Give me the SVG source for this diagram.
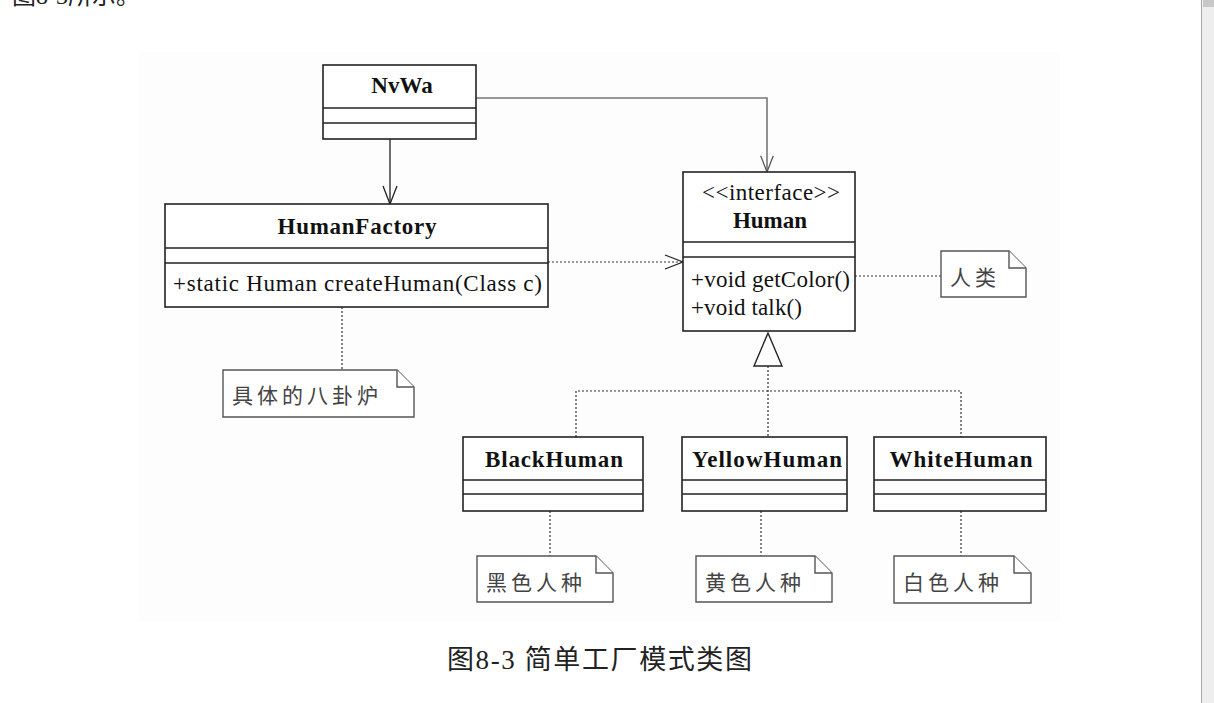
<svg xmlns="http://www.w3.org/2000/svg" width="1214" height="703" viewBox="0 0 1214 703">
<style>
.box{fill:#fff;stroke:#222;stroke-width:1.6}
.sep{stroke:#222;stroke-width:1.5}
.dot{fill:none;stroke:#333;stroke-width:1.2;stroke-dasharray:2 2}
.solid{fill:none;stroke:#222;stroke-width:1.3}
.gray{fill:none;stroke:#777;stroke-width:1.6}
.note{fill:#fff;stroke:#555;stroke-width:1.4}
.b{font-family:"Liberation Serif","Noto Sans CJK SC",serif;font-weight:bold;font-size:23px;fill:#111;text-anchor:middle}
.r{font-family:"Liberation Serif","Noto Sans CJK SC",serif;font-size:23px;fill:#111}
.cjk{font-family:"Noto Sans CJK SC",sans-serif;font-size:21px;fill:#444;letter-spacing:4px}
.cap{font-family:"Liberation Serif","Noto Sans CJK SC",serif;font-size:27px;fill:#222;letter-spacing:1.6px}
</style>
<defs>
<marker id="open" viewBox="0 0 20 16" refX="19" refY="8" markerWidth="20" markerHeight="16" markerUnits="userSpaceOnUse" orient="auto">
<path d="M1,1 L19,8 L1,15" fill="none" stroke="#222" stroke-width="1.3"/>
</marker>
<marker id="openGray" viewBox="0 0 20 16" refX="19" refY="8" markerWidth="18" markerHeight="16" markerUnits="userSpaceOnUse" orient="auto">
<path d="M1,1 L19,8 L1,15" fill="none" stroke="#555" stroke-width="1.4"/>
</marker>
</defs>
<rect x="0" y="0" width="1214" height="703" fill="#fff"/>
<rect x="138" y="52" width="922" height="570" fill="#fdfdfd"/>
<text x="12" y="4" style="font-family:'Liberation Serif','Noto Sans CJK SC',serif;font-size:24px;fill:#222">图8-3所示。</text>
<!-- scrollbar -->
<rect x="1201" y="0" width="13" height="703" fill="#eeeeee"/>
<line x1="1201.5" y1="0" x2="1201.5" y2="703" stroke="#a8a8a8" stroke-width="1"/>
<rect x="1203" y="0" width="11" height="7" fill="#c8c8c8"/>

<g id="connectors">
<line class="solid" x1="390" y1="139" x2="390" y2="204" marker-end="url(#open)"/>
<polyline class="gray" points="476,98 767,98 767,172" marker-end="url(#openGray)"/>
<line class="dot" x1="548" y1="262" x2="683" y2="262" marker-end="url(#open)"/>
<line class="dot" x1="855" y1="276" x2="941" y2="276"/>
<line class="dot" x1="342" y1="307" x2="342" y2="370"/>
<polygon points="768,333 754,366 782,366" fill="#fff" stroke="#222" stroke-width="1.4"/>
<line class="dot" x1="768" y1="366" x2="768" y2="437"/>
<polyline class="dot" points="576,437 576,391 961,391 961,437"/>
<line class="dot" x1="550" y1="511" x2="550" y2="556"/>
<line class="dot" x1="761" y1="511" x2="761" y2="556"/>
<line class="dot" x1="961" y1="511" x2="961" y2="556"/>
</g>

<g id="NvWa">
<rect class="box" x="323" y="65" width="153" height="74"/>
<line class="sep" x1="323" y1="108" x2="476" y2="108"/>
<line class="sep" x1="323" y1="123" x2="476" y2="123"/>
<text class="b" x="402" y="93">NvWa</text>
</g>

<g id="HumanFactory">
<rect class="box" x="165" y="204" width="383" height="103"/>
<line class="sep" x1="165" y1="248" x2="548" y2="248"/>
<line class="sep" x1="165" y1="263" x2="548" y2="263"/>
<text class="b" x="357" y="234" textLength="159">HumanFactory</text>
<text class="r" x="173" y="291" textLength="369">+static Human createHuman(Class c)</text>
</g>

<g id="Human">
<rect class="box" x="683" y="172" width="172" height="159"/>
<line class="sep" x1="683" y1="242" x2="855" y2="242"/>
<line class="sep" x1="683" y1="257" x2="855" y2="257"/>
<text class="r" x="771" y="200" text-anchor="middle" textLength="138">&lt;&lt;interface&gt;&gt;</text>
<text class="b" x="770" y="228">Human</text>
<text class="r" x="691" y="287" textLength="159">+void getColor()</text>
<text class="r" x="691" y="315" textLength="111">+void talk()</text>
</g>

<g id="noteHuman">
<path class="note" d="M941,251 H1009 L1026,268 V297 H941 Z"/>
<path class="note" d="M1009,251 V268 H1026" fill="none"/>
<text class="cjk" x="950" y="285">人类</text>
</g>

<g id="noteFactory">
<path class="note" d="M223,370 H397 L414,387 V417 H223 Z"/>
<path class="note" d="M397,370 V387 H414" fill="none"/>
<text class="cjk" x="232" y="403">具体的八卦炉</text>
</g>

<g id="BlackHuman">
<rect class="box" x="463" y="437" width="180" height="74"/>
<line class="sep" x1="463" y1="480" x2="643" y2="480"/>
<line class="sep" x1="463" y1="494" x2="643" y2="494"/>
<text class="b" x="554" y="467" textLength="138">BlackHuman</text>
</g>

<g id="YellowHuman">
<rect class="box" x="682" y="437" width="165" height="74"/>
<line class="sep" x1="682" y1="480" x2="847" y2="480"/>
<line class="sep" x1="682" y1="494" x2="847" y2="494"/>
<text class="b" x="767" y="467" textLength="150">YellowHuman</text>
</g>

<g id="WhiteHuman">
<rect class="box" x="874" y="437" width="172" height="74"/>
<line class="sep" x1="874" y1="480" x2="1046" y2="480"/>
<line class="sep" x1="874" y1="494" x2="1046" y2="494"/>
<text class="b" x="961" y="467" textLength="143">WhiteHuman</text>
</g>

<g id="noteBlack">
<path class="note" d="M477,556 H596 L613,573 V602 H477 Z"/>
<path class="note" d="M596,556 V573 H613" fill="none"/>
<text class="cjk" x="486" y="590">黑色人种</text>
</g>

<g id="noteYellow">
<path class="note" d="M696,556 H815 L832,573 V602 H696 Z"/>
<path class="note" d="M815,556 V573 H832" fill="none"/>
<text class="cjk" x="705" y="590">黄色人种</text>
</g>

<g id="noteWhite">
<path class="note" d="M894,556 H1014 L1031,573 V603 H894 Z"/>
<path class="note" d="M1014,556 V573 H1031" fill="none"/>
<text class="cjk" x="903" y="590">白色人种</text>
</g>

<text class="cap" x="447" y="669">图8-3 简单工厂模式类图</text>
</svg>
